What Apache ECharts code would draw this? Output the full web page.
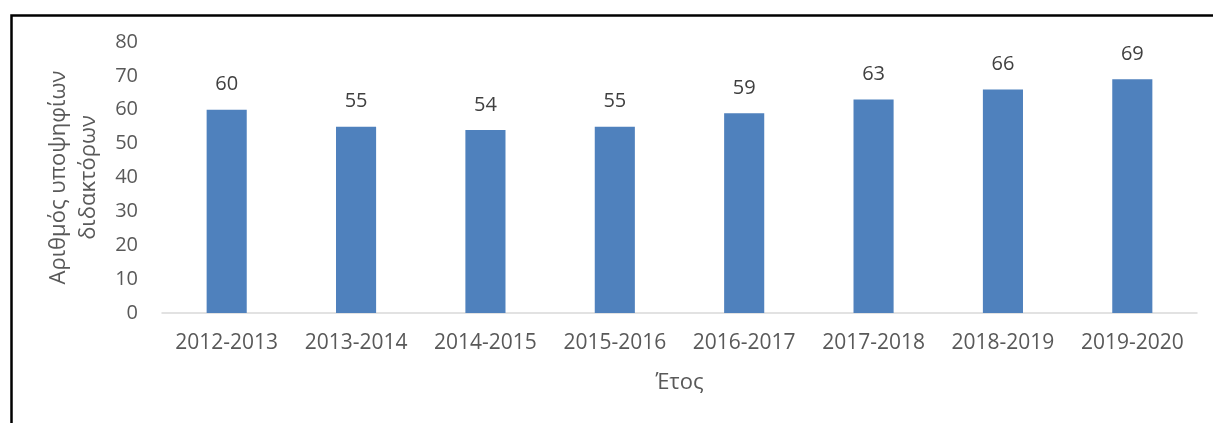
<!doctype html>
<html lang="el">
<head>
    <meta charset="UTF-8">
    <title>Υποψήφιοι διδάκτορες</title>
    <script src="https://cdn.jsdelivr.net/npm/echarts@6/dist/echarts.min.js"></script>
    <style>
        html, body { margin: 0; padding: 0; background: #fff; }
        #chart { width: 1213px; height: 423px; }
    </style>
</head>
<body>
<div id="chart"></div>
<script>
    var years = ['2012-2013', '2013-2014', '2014-2015', '2015-2016', '2016-2017', '2017-2018', '2018-2019', '2019-2020'];
    var candidates = [60, 55, 54, 55, 59, 63, 66, 69];

    var font = '"Open Sans", "Noto Sans", sans-serif';
    var myChart = echarts.init(document.getElementById('chart'));

    var option = {
        animation: false,
        textStyle: { fontFamily: font },
        // frame around the chart, clipped on the right and bottom like the source
        graphic: [{
            type: 'rect',
            left: 9, top: 13,
            shape: { width: 1300, height: 500 },
            style: { fill: 'none', stroke: '#000', lineWidth: 2.5 },
            silent: true
        }],
        grid: { left: 162, right: 16, top: 42, bottom: 110 },
        xAxis: {
            type: 'category',
            data: years,
            name: 'Έτος',
            nameLocation: 'middle',
            nameGap: 59,
            nameTextStyle: { color: '#595959', fontSize: 22, fontFamily: font },
            axisLine: { lineStyle: { color: '#d9d9d9', width: 1.5 } },
            axisTick: { show: false },
            axisLabel: { color: '#595959', fontSize: 21, margin: 20, interval: 0, fontFamily: font }
        },
        yAxis: {
            type: 'value',
            min: 0, max: 80, interval: 10,
            name: 'Αριθμός υποψηφίων\nδιδακτόρων',
            nameLocation: 'middle',
            nameRotate: 90,
            nameGap: 49,
            nameTextStyle: { color: '#595959', fontSize: 22, lineHeight: 30, fontFamily: font },
            splitLine: { show: false },
            axisLine: { show: false },
            axisTick: { show: false },
            axisLabel: { color: '#595959', fontSize: 20, margin: 24, fontFamily: font }
        },
        series: [{
            type: 'bar',
            data: candidates,
            barWidth: '31%',
            itemStyle: { color: '#4f81bd' },
            label: {
                show: true,
                position: 'top',
                distance: 15,
                color: '#404040',
                fontSize: 20,
                fontFamily: font
            }
        }]
    };

    myChart.setOption(option);
</script>
</body>
</html>
